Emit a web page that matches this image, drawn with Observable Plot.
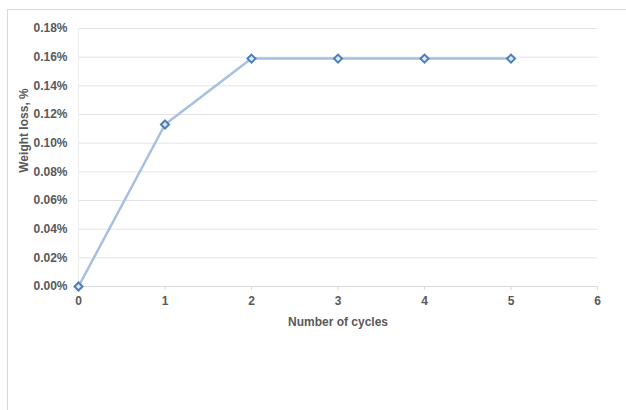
<!DOCTYPE html>
<html>
<head>
<meta charset="utf-8">
<script src="https://cdn.jsdelivr.net/npm/d3@7"></script>
<script src="https://cdn.jsdelivr.net/npm/@observablehq/plot@0.6"></script>
<style>
  html, body { margin: 0; padding: 0; background: #fff; overflow: hidden; }
  #wrap { position: relative; width: 626px; height: 410px; }
  #border { position: absolute; left: 7px; top: 9px; width: 660px; height: 440px; border: 1px solid #d9d9d9; box-sizing: border-box; }
  #chart { position: absolute; left: 0; top: 0; }
</style>
</head>
<body>
<div id="wrap"><div id="border"></div><div id="chart"></div></div>
<script>
const cycles = [0, 1, 2, 3, 4, 5];
const weightLoss = [0, 0.00113, 0.00159, 0.00159, 0.00159, 0.00159];
const yTicks = [0, 0.0002, 0.0004, 0.0006, 0.0008, 0.0010, 0.0012, 0.0014, 0.0016, 0.0018];
const xTicks = [0, 1, 2, 3, 4, 5, 6];
const xTitle = "Number of cycles";
const yTitle = "Weight loss, %";

const data = cycles.map((c, i) => ({cycle: c, loss: weightLoss[i]}));

const chart = Plot.plot({
  width: 626,
  height: 410,
  marginLeft: 78,
  marginRight: 29,
  marginTop: 28,
  marginBottom: 124,
  style: {fontFamily: "'Liberation Sans', Arial, sans-serif", fontWeight: "bold", fontSize: "12px", background: "transparent", overflow: "visible"},
  x: {domain: [0, 6]},
  y: {domain: [0, 0.0018]},
  marks: [
    Plot.gridY(yTicks, {stroke: "#e3e3e3", strokeOpacity: 1}),
    Plot.ruleX([0], {stroke: "#ededed"}),
    Plot.ruleY([0], {stroke: "#d9d9d9"}),
    Plot.axisY(yTicks, {tickSize: 0, tickPadding: 11, tickFormat: d3.format(".2%"), fill: "#595959", fontSize: 12, fontWeight: "bold", label: null}),
    Plot.axisX(xTicks, {tickSize: 4, tickPadding: 6, stroke: "#d9d9d9", fill: "#595959", fontSize: 12, fontWeight: "bold", label: null}),
    Plot.line(data, {x: "cycle", y: "loss", stroke: "#a7c0e1", strokeWidth: 2.5}),
    Plot.dot(data, {x: "cycle", y: "loss", symbol: "diamond2", r: 3.6, fill: "#dfe8f4", stroke: "#4a7ebb", strokeWidth: 2}),
    Plot.text([xTitle], {frameAnchor: "bottom", dy: 36, fill: "#595959", fontSize: 12, fontWeight: "bold", lineAnchor: "middle"}),
    Plot.text([yTitle], {frameAnchor: "left", dx: -54, dy: -27, rotate: -90, textAnchor: "middle", fill: "#595959", fontSize: 12, fontWeight: "bold"})
  ]
});
document.getElementById("chart").appendChild(chart);
</script>
</body>
</html>
